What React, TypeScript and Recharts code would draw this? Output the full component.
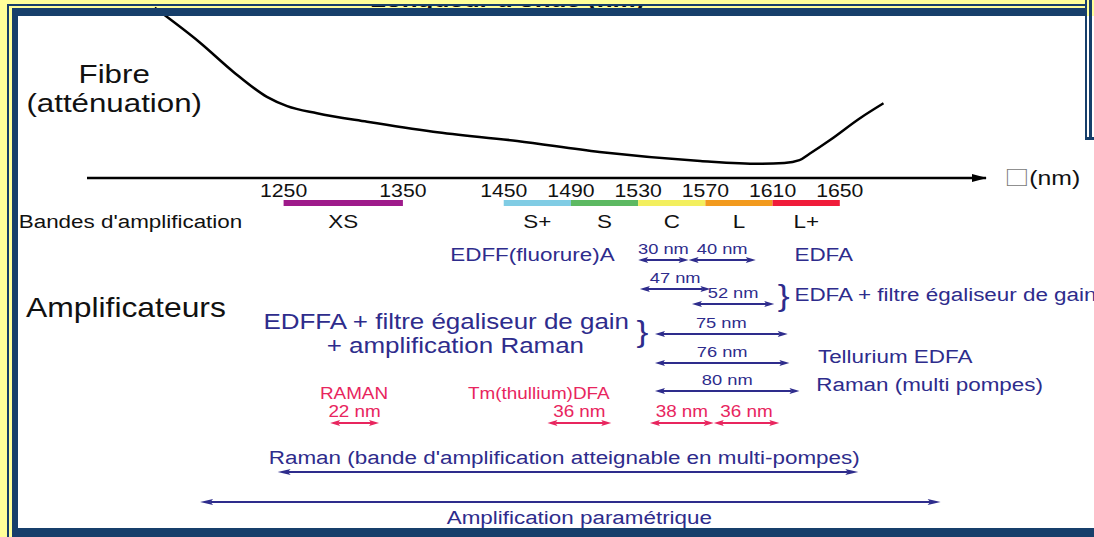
import React from 'react';
import { ComposedChart, Line, XAxis, YAxis, ReferenceLine, ReferenceDot } from 'recharts';

const FONT = '"Liberation Sans", Arial, Helvetica, sans-serif';
const SX = 1.18;
const BLUE = '#2E2C8C';
const PINK = '#E8255E';
const INK = '#111111';
const FRAME = '#173F6B';
const YELLOW = '#FFFF99';

// Wavelength axis: tick wavelengths (nm) and their drawn position (the 1250-1450 nm part is compressed)
const axisTicksNm = [1250, 1350, 1450, 1490, 1530, 1570, 1610, 1650];
const axisTickPos = [1319, 1390, 1450, 1490, 1530, 1570, 1610, 1650];

// Fibre attenuation curve (schematic, dB/km)
const curveNm = [1142, 1180, 1208, 1236, 1253, 1278, 1320, 1380, 1458, 1507, 1567, 1602, 1617, 1626, 1632, 1644, 1662, 1676];
const curveAtt = [2.39, 1.9, 1.49, 1.14, 1.01, 0.91, 0.79, 0.65, 0.52, 0.365, 0.24, 0.2, 0.21, 0.25, 0.34, 0.53, 0.84, 1.05];

// Amplification bands
const bandNames = ['XS', 'S+', 'S', 'C', 'L', 'L+'];
const bandFrom = [1250, 1450, 1490, 1530, 1570, 1610];
const bandTo = [1350, 1490, 1530, 1570, 1610, 1650];
const bandColors = ['#9E1A8A', '#80CCE4', '#5DB962', '#F3EF5E', '#F29A1E', '#F01C3A'];

// Amplifier ranges
const ampLabel = ['30 nm', '40 nm', '47 nm', '52 nm', '75 nm', '76 nm', '80 nm', '22 nm', '36 nm', '38 nm', '36 nm'];
const ampFrom = [1530, 1560, 1531, 1562, 1540, 1540, 1540, 1289, 1476, 1537, 1575];
const ampTo = [1560, 1600, 1573, 1611, 1619, 1620, 1626, 1330, 1514, 1575, 1614];
const ampRow = [260, 260, 289, 304, 334, 363, 391, 423, 423, 423, 423];
const ampKind = ['blue', 'blue', 'blue', 'blue', 'blue', 'blue', 'blue', 'pink', 'pink', 'pink', 'pink'];

// Wide spans
const spanLabel = ["Raman (bande d'amplification atteignable en multi-pompes)", 'Amplification paramétrique'];
const spanFrom = [1245, 1180];
const spanTo = [1661, 1710];
const spanRow = [472, 502];
const spanLabelNm = [1486, 1495];
const spanLabelRow = [464, 524];

// Amplifier names and braces
const noteText = ['EDFF(fluorure)A', 'EDFA', 'EDFA + filtre égaliseur de gain', 'EDFFA + filtre égaliseur de gain', '+ amplification Raman', 'Tellurium EDFA', 'Raman (multi pompes)', 'RAMAN', 'Tm(thullium)DFA', '}', '}'];
const noteNm = [1516, 1623, 1623, 1393, 1402, 1637, 1636, 1309, 1513, 1613, 1529];
const noteRow = [261, 261, 301, 329, 353, 363, 391, 399, 399, 306, 342];
const noteAlign = ['end', 'start', 'start', 'middle', 'middle', 'start', 'start', 'middle', 'end', 'start', 'start'];
const noteKind = ['blue', 'blue', 'blue', 'big', 'big', 'blue', 'blue', 'pink', 'pink', 'brace', 'brace'];

// Black headings
const headText = ['Fibre', '(atténuation)', "Bandes d'amplification", 'Amplificateurs', "Longueur d'onde (nm)"];
const headNm = [1108, 1108, 1028, 1034, 1452];
const headRow = [83, 112, 228, 317, 7];
const headAlign = ['middle', 'middle', 'start', 'start', 'middle'];
const headKind = ['title', 'title', 'row', 'section', 'top'];

const unitNm = 1748;
const unitRow = 185;
const axisRow = 178;
const bandRow = 203;
const bandLabelRow = 228;

function warp(nm: number): number {
  const a = axisTicksNm;
  const p = axisTickPos;
  let i = 0;
  if (nm >= a[a.length - 1]) i = a.length - 2;
  else if (nm > a[0]) {
    while (nm > a[i + 1]) i++;
  }
  return p[i] + ((nm - a[i]) * (p[i + 1] - p[i])) / (a[i + 1] - a[i]);
}

const kindColor: Record<string, string> = { blue: BLUE, big: BLUE, pink: PINK, brace: BLUE };
const kindSize: Record<string, number> = { blue: 19, big: 22, pink: 16, brace: 30 };
const headSize: Record<string, number> = { title: 26.5, row: 19, section: 27, top: 22 };

function sText(x: number, y: number, content: React.ReactNode, size: number, color: string, anchor: string, weight?: string) {
  return (
    <text
      transform={`translate(${x},${y}) scale(${SX},1)`}
      x={0}
      y={0}
      textAnchor={anchor as any}
      fontSize={size}
      fill={color}
      fontFamily={FONT}
      fontWeight={weight || 'normal'}
    >
      {content}
    </text>
  );
}

function makeArrow(color: string, width: number, len: number, half: number) {
  return (p: any) => {
    const { x1, y1, x2 } = p;
    const d = x2 >= x1 ? 1 : -1;
    const head = (tx: number, dir: number) =>
      `${tx},${y1} ${tx - dir * len},${y1 - half} ${tx - dir * len * 0.8},${y1} ${tx - dir * len},${y1 + half}`;
    return (
      <g>
        <line x1={x1 + d * len * 0.8} y1={y1} x2={x2 - d * len * 0.8} y2={y1} stroke={color} strokeWidth={width} />
        <polygon points={head(x1, -d)} fill={color} />
        <polygon points={head(x2, d)} fill={color} />
      </g>
    );
  };
}

const AxisTick = (props: any) => {
  const { x, y, payload } = props;
  const i = axisTickPos.indexOf(payload.value);
  const label = i >= 0 ? String(axisTicksNm[i]) : '';
  return sText(x, y + 11, label, 18, INK, 'middle');
};

export default function App() {
  const curveData = curveNm.map((nm, i) => ({ pos: warp(nm), att: curveAtt[i] }));
  const W = 1094;
  const H = 537;

  const abs = (s: React.CSSProperties): React.CSSProperties => ({ position: 'absolute', pointerEvents: 'none', ...s });

  return (
    <div style={{ position: 'absolute', left: 0, top: 0, width: W, height: H, background: YELLOW, overflow: 'hidden' }}>
      <div style={abs({ left: 18, top: 16, right: 0, bottom: 9, background: '#FFFFFF' })} />
      <div style={abs({ left: 0, top: 0 })}>
        <ComposedChart
          width={W}
          height={H}
          margin={{ top: 0, right: 108, bottom: 329, left: 87 }}
          style={{ fontFamily: FONT }}
        >
          <XAxis
            xAxisId={0}
            type="number"
            dataKey="pos"
            domain={[1202, 1737]}
            allowDataOverflow
            ticks={axisTickPos}
            interval={0}
            tick={<AxisTick />}
            tickLine={false}
            axisLine={{ stroke: '#000', strokeWidth: 2.5 }}
            height={30}
          />
          <YAxis yAxisId="att" type="number" hide domain={[0, 2.5]} allowDataOverflow />
          <YAxis yAxisId="lay" type="number" hide domain={[0, 178]} reversed allowDataOverflow />

          <Line
            data={curveData}
            xAxisId={0}
            yAxisId="att"
            dataKey="att"
            type="monotone"
            stroke="#000"
            strokeWidth={2.5}
            dot={false}
            activeDot={false}
            isAnimationActive={false}
          />

          {/* axis arrow head */}
          <ReferenceDot
            xAxisId={0}
            yAxisId="lay"
            x={1737}
            y={axisRow}
            ifOverflow="visible"
            shape={(p: any) => (
              <polygon points={`${p.cx + 1},${p.cy} ${p.cx - 14},${p.cy - 4} ${p.cx - 14},${p.cy + 4}`} fill="#000" />
            )}
          />
          <ReferenceDot
            xAxisId={0}
            yAxisId="lay"
            x={warp(unitNm)}
            y={unitRow}
            ifOverflow="visible"
            shape={(p: any) => (
              <text transform={`translate(${p.cx},${p.cy}) scale(${SX},1)`} fontSize={21} fontFamily={FONT} fill={INK}>
                <tspan fontFamily='"Noto Sans CJK SC", "DejaVu Sans", sans-serif' fill="#777" fontSize={21}>□</tspan>
                <tspan>(nm)</tspan>
              </text>
            )}
          />

          {/* bands */}
          {bandNames.map((b, i) => (
            <ReferenceLine
              key={'band' + i}
              xAxisId={0}
              yAxisId="lay"
              ifOverflow="visible"
              segment={[
                { x: warp(bandFrom[i]), y: bandRow },
                { x: warp(bandTo[i]), y: bandRow },
              ]}
              stroke={bandColors[i]}
              strokeWidth={6}
            />
          ))}
          {bandNames.map((b, i) => (
            <ReferenceDot
              key={'bl' + i}
              xAxisId={0}
              yAxisId="lay"
              x={(warp(bandFrom[i]) + warp(bandTo[i])) / 2}
              y={bandLabelRow}
              ifOverflow="visible"
              shape={(p: any) => sText(p.cx, p.cy, b, 19, INK, 'middle')}
            />
          ))}

          {/* amplifier arrows */}
          {ampLabel.map((lab, i) => {
            const color = ampKind[i] === 'pink' ? PINK : BLUE;
            return (
              <ReferenceLine
                key={'amp' + i}
                xAxisId={0}
                yAxisId="lay"
                ifOverflow="visible"
                segment={[
                  { x: warp(ampFrom[i]), y: ampRow[i] },
                  { x: warp(ampTo[i]), y: ampRow[i] },
                ]}
                stroke={color}
                strokeWidth={2}
                shape={makeArrow(color, 2, 10, 3)}
              />
            );
          })}
          {ampLabel.map((lab, i) => {
            const color = ampKind[i] === 'pink' ? PINK : BLUE;
            return (
              <ReferenceDot
                key={'ampl' + i}
                xAxisId={0}
                yAxisId="lay"
                x={(warp(ampFrom[i]) + warp(ampTo[i])) / 2}
                y={ampRow[i] - 6}
                ifOverflow="visible"
                shape={(p: any) => sText(p.cx, p.cy, lab, ampKind[i] === 'pink' ? 16 : 15.5, color, 'middle')}
              />
            );
          })}

          {/* wide spans */}
          {spanLabel.map((lab, i) => (
            <ReferenceLine
              key={'span' + i}
              xAxisId={0}
              yAxisId="lay"
              ifOverflow="visible"
              segment={[
                { x: warp(spanFrom[i]), y: spanRow[i] },
                { x: warp(spanTo[i]), y: spanRow[i] },
              ]}
              stroke={BLUE}
              strokeWidth={2}
              shape={makeArrow(BLUE, 2, 13, 3)}
            />
          ))}
          {spanLabel.map((lab, i) => (
            <ReferenceDot
              key={'spl' + i}
              xAxisId={0}
              yAxisId="lay"
              x={warp(spanLabelNm[i])}
              y={spanLabelRow[i]}
              ifOverflow="visible"
              shape={(p: any) => sText(p.cx, p.cy, lab, 19, BLUE, 'middle')}
            />
          ))}

          {/* amplifier names */}
          {noteText.map((t, i) => (
            <ReferenceDot
              key={'note' + i}
              xAxisId={0}
              yAxisId="lay"
              x={warp(noteNm[i])}
              y={noteRow[i]}
              ifOverflow="visible"
              shape={(p: any) => sText(p.cx, p.cy, t, kindSize[noteKind[i]], kindColor[noteKind[i]], noteAlign[i])}
            />
          ))}

          {/* headings */}
          {headText.map((t, i) => (
            <ReferenceDot
              key={'head' + i}
              xAxisId={0}
              yAxisId="lay"
              x={warp(headNm[i])}
              y={headRow[i]}
              ifOverflow="visible"
              shape={(p: any) =>
                sText(p.cx, p.cy, t, headSize[headKind[i]], INK, headAlign[i], headKind[i] === 'top' ? 'bold' : 'normal')
              }
            />
          ))}
        </ComposedChart>
      </div>

      {/* slide frame */}
      <div style={abs({ left: 0, top: 0, right: 9, height: 4, background: YELLOW })} />
      <div style={abs({ left: 7, top: 4, width: 2, bottom: 0, background: FRAME })} />
      <div style={abs({ left: 7, top: 4, right: 9, height: 1.5, background: FRAME })} />
      <div style={abs({ left: 12, top: 8, width: 6, bottom: 0, background: FRAME })} />
      <div style={abs({ left: 12, top: 8, right: 9, height: 8, background: FRAME })} />
      <div style={abs({ left: 12, top: 528, right: 0, bottom: 0, background: FRAME })} />
      <div style={abs({ left: 1085, top: 0, width: 2, height: 140, background: FRAME })} />
      <div style={abs({ left: 1089, top: 0, width: 3, height: 140, background: FRAME })} />
      <div style={abs({ left: 1085, top: 137, right: 0, height: 3, background: FRAME })} />
    </div>
  );
}
